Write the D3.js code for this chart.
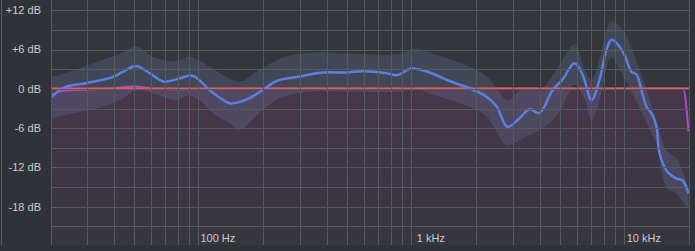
<!DOCTYPE html>
<html>
<head>
<meta charset="utf-8">
<title>Frequency response</title>
<script src="https://d3js.org/d3.v7.min.js"></script>
<style>
  html, body { margin: 0; padding: 0; background: #2f3237; }
  svg { display: block; }
</style>
</head>
<body>
<script>
// measured curve (blue), Hz / dB
const freqs = [20, 23.5, 30, 39.5, 43.6, 51, 59, 69, 81.5, 94, 113, 128, 140, 156, 174, 200, 233, 289, 383, 496, 589, 764, 861, 1000, 1217, 1510, 1875, 2254, 2513, 2826, 3219, 3588, 3991, 4600, 5119, 5830, 6360, 7013, 7641, 8241, 8698, 9180, 10015, 10800, 11400, 12030, 12700, 13550, 14150, 14620, 15780, 17580, 18760, 20000];
const curveDb = [-1.5, 0.2, 0.9, 1.8, 2.5, 3.5, 2.4, 1.1, 1.6, 2.0, -0.2, -1.5, -2.2, -2.0, -1.4, -0.2, 1.2, 1.8, 2.5, 2.5, 2.7, 2.4, 2.1, 3.1, 2.5, 1.2, 0.1, -1.2, -2.7, -5.8, -4.5, -3.1, -3.7, -0.2, 1.4, 3.9, 2.2, -1.7, 1.4, 6.0, 7.5, 7.0, 5.2, 2.6, 2.2, -0.2, -2.7, -4.0, -5.8, -9.8, -12.5, -13.7, -14.0, -16.0];

// spread band round the curve
const bandFreqs = [20, 27, 34, 44, 51, 62, 78, 90, 102, 120, 140, 156, 200, 250, 340, 500, 800, 950, 1000, 1300, 1875, 2254, 2500, 2826, 3400, 3991, 4900, 5830, 6500, 7013, 7641, 8698, 10015, 11200, 12500, 13500, 14150, 15780, 17580, 20000];
const bandHi = [1.7, 3.0, 4.2, 5.5, 6.5, 4.8, 4.2, 4.9, 4.2, 2.8, 1.6, 1.1, 3.2, 4.8, 5.5, 5.4, 5.2, 5.6, 6.1, 5.2, 3.4, 1.9, 0.2, -1.7, 0.3, -0.2, 3.4, 6.8, 3.0, 1.4, 4.5, 10.4, 8.6, 4.9, 0.5, -2.8, -4.8, -9.4, -10.6, -15.0];
const bandLo = [-4.5, -3.6, -2.9, -1.5, -0.2, -0.8, -1.7, -1.0, -1.8, -4.0, -5.2, -6.3, -3.2, -1.2, -0.4, -0.4, -0.5, -0.2, 0.1, -1.0, -2.7, -4.2, -6.5, -8.6, -7.4, -6.3, -3.8, 0.6, -1.5, -4.8, -1.8, 4.8, 1.5, -1.5, -4.6, -7.0, -8.3, -15.0, -16.0, -18.6];

// target / correction curve (purple)
const targetFreqs = [20, 23, 30, 40, 50, 60, 80, 150, 300, 1000, 5000, 10000, 18900, 20000];
const targetDb = [-1.2, -0.3, -0.1, 0.1, 0.35, 0.1, -0.05, 0, 0, 0, 0, 0, 0, -6.5];

const dbTicks = [12, 6, 0, -6, -12, -18];
const dbGrid = [12, 9, 6, 3, 0, -3, -6, -9, -12, -15, -18, -21];
const hzLabels = [[100, "100 Hz"], [1000, "1 kHz"], [10000, "10 kHz"]];

const w = 695, h = 251;
const left = 51, right = 689, bottom = 245;

const x = d3.scaleLog().domain([20, 20000]).range([49.5, 688.5]);
const y = d3.scaleLinear().domain([12, -18]).range([10.3, 206.7]);

const svg = d3.select("body").append("svg").attr("width", w).attr("height", h);

svg.append("rect").attr("width", w).attr("height", h).attr("fill", "#2f3237");
svg.append("rect").attr("x", left).attr("y", 0).attr("width", right - left).attr("height", bottom).attr("fill", "#33363b");

const defs = svg.append("defs");
defs.append("clipPath").attr("id", "plot")
  .append("rect").attr("x", left).attr("y", 0).attr("width", right - left).attr("height", bottom);
const grad = defs.append("linearGradient").attr("id", "under")
  .attr("x1", 0).attr("y1", 0).attr("x2", 0).attr("y2", 1);
grad.append("stop").attr("offset", "0%").attr("stop-color", "#7a3a72").attr("stop-opacity", 0.28);
grad.append("stop").attr("offset", "100%").attr("stop-color", "#7a3a72").attr("stop-opacity", 0.04);

const plot = svg.append("g").attr("clip-path", "url(#plot)");

// fill under the target curve
const targetPts = targetFreqs.map((f, i) => [f, targetDb[i]]);
plot.append("path")
  .datum(targetPts)
  .attr("fill", "url(#under)")
  .attr("d", d3.area().x(d => x(d[0])).y0(bottom).y1(d => y(d[1])).curve(d3.curveMonotoneX));

// grid
const gridHz = [];
[10, 100, 1000, 10000].forEach(dec => {
  for (let k = 1; k <= 9; k++) {
    const f = dec * k;
    if (f > 20 && f < 20000) gridHz.push(f);
  }
});
svg.append("g").selectAll("line").data(gridHz).join("line")
  .attr("x1", d => Math.round(x(d)) + 0.5).attr("x2", d => Math.round(x(d)) + 0.5)
  .attr("y1", 0).attr("y2", bottom)
  .attr("stroke", "#555a60").attr("stroke-width", 1);
svg.append("g").selectAll("line").data(dbGrid).join("line")
  .attr("x1", left).attr("x2", right)
  .attr("y1", d => Math.round(y(d)) + 0.5).attr("y2", d => Math.round(y(d)) + 0.5)
  .attr("stroke", "#555a60").attr("stroke-width", 1);

// frame lines
[1.5, left + 0.5, right + 0.5].forEach(xx => {
  svg.append("line").attr("x1", xx).attr("x2", xx).attr("y1", 0).attr("y2", bottom)
    .attr("stroke", "#555a60").attr("stroke-width", 1);
});

// band
const bandPts = bandFreqs.map((f, i) => [f, bandHi[i], bandLo[i]]);
plot.append("path")
  .datum(bandPts)
  .attr("fill", "rgba(125,140,200,0.2)")
  .attr("d", d3.area().x(d => x(d[0])).y0(d => y(d[2])).y1(d => y(d[1])).curve(d3.curveCatmullRom));

// purple target line
plot.append("path")
  .datum(targetPts)
  .attr("fill", "none").attr("stroke", "#b346d6").attr("stroke-width", 2)
  .attr("d", d3.line().x(d => x(d[0])).y(d => y(d[1])).curve(d3.curveMonotoneX));

// red zero line
plot.append("line")
  .attr("x1", left).attr("x2", right + 1)
  .attr("y1", y(0)).attr("y2", y(0))
  .attr("stroke", "#f0574f").attr("stroke-width", 2.5);

// blue measured curve
const curvePts = freqs.map((f, i) => [f, curveDb[i]]);
plot.append("path")
  .datum(curvePts)
  .attr("fill", "none").attr("stroke", "#5a80e2").attr("stroke-width", 2.5)
  .attr("stroke-linejoin", "round")
  .attr("d", d3.line().x(d => x(d[0])).y(d => y(d[1])).curve(d3.curveCatmullRom));

// labels
svg.append("g").selectAll("text").data(dbTicks).join("text")
  .attr("x", 41).attr("y", d => y(d))
  .attr("dy", "0.35em")
  .attr("text-anchor", "end")
  .attr("font-family", "Liberation Sans, Arial, sans-serif")
  .attr("font-size", 11)
  .attr("fill", "#c9ccd0")
  .text(d => (d > 0 ? "+" : "") + d + " dB");

svg.append("g").selectAll("text").data(hzLabels).join("text")
  .attr("x", d => x(d[0]) + 19.5).attr("y", 242)
  .attr("text-anchor", "middle")
  .attr("font-family", "Liberation Sans, Arial, sans-serif")
  .attr("font-size", 11)
  .attr("fill", "#c9ccd0")
  .text(d => d[1]);
</script>
</body>
</html>
